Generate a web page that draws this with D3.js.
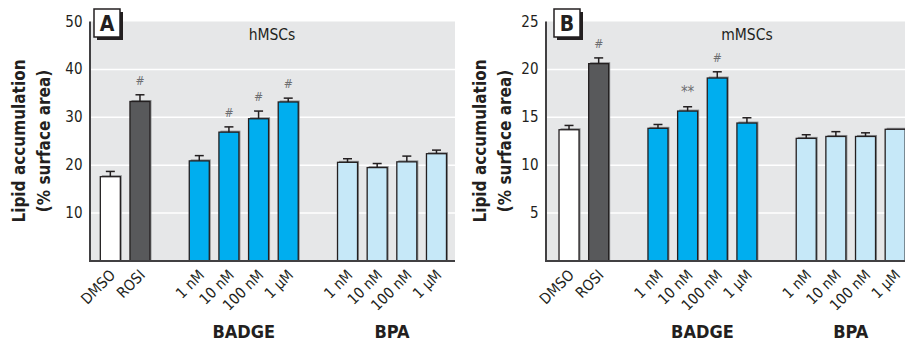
<!DOCTYPE html>
<html>
<head>
<meta charset="utf-8">
<script src="https://cdn.jsdelivr.net/npm/d3@7"></script>
<style>
  body { margin: 0; background: #fff; }
  svg text { font-family: "Liberation Sans Narrow", "Arial Narrow", "DejaVu Sans Condensed", sans-serif; }
</style>
</head>
<body>
<svg id="chart" width="905" height="343"></svg>
<script>
// categories, in plotting order
const categories = ["DMSO", "ROSI", "BADGE 1 nM", "BADGE 10 nM", "BADGE 100 nM", "BADGE 1 µM",
  "BPA 1 nM", "BPA 10 nM", "BPA 100 nM", "BPA 1 µM"];
const tickLabels = ["DMSO", "ROSI", "1 nM", "10 nM", "100 nM", "1 µM", "1 nM", "10 nM", "100 nM", "1 µM"];
const groups = ["control", "control", "BADGE", "BADGE", "BADGE", "BADGE", "BPA", "BPA", "BPA", "BPA"];
const groupNames = ["BADGE", "BPA"];

// panel A: hMSCs
const hMSCsMeans = [17.6, 33.3, 20.9, 26.9, 29.7, 33.2, 20.6, 19.5, 20.7, 22.4];
const hMSCsErr = [1.1, 1.4, 1.1, 1.1, 1.6, 0.8, 0.75, 0.85, 1.2, 0.75];
const hMSCsMarks = ["", "#", "", "#", "#", "#", "", "", "", ""];
const hMSCsTicks = [10, 20, 30, 40, 50];

// panel B: mMSCs
const mMSCsMeans = [13.7, 20.6, 13.85, 15.65, 19.1, 14.4, 12.8, 13.0, 13.0, 13.75];
const mMSCsErr = [0.45, 0.6, 0.4, 0.45, 0.65, 0.55, 0.38, 0.5, 0.38, null];
const mMSCsMarks = ["", "#", "", "**", "#", "", "", "", "", ""];
const mMSCsTicks = [5, 10, 15, 20, 25];

const fillOf = {
  "DMSO": "#ffffff",
  "ROSI": "#58595b",
  "BADGE": "#00aeef",
  "BPA": "#c6e8f8"
};

const svg = d3.select("#chart");
const baseY = 261, topY = 21.5, step = 29.65;

// band domain with empty slots between groups
const slots = [];
categories.forEach((c, i) => {
  if (i > 0 && groups[i] !== groups[i - 1]) slots.push("gap-" + i);
  slots.push(c);
});

function drawPanel(p) {
  const g = svg.append("g");
  const x = d3.scaleBand()
    .domain(slots)
    .range([p.x0, p.x0 + slots.length * step])
    .paddingInner(0.325)
    .paddingOuter(0.1625);
  const y = d3.scaleLinear().domain([0, p.yMax]).range([baseY, topY]);

  // plot background
  g.append("rect")
    .attr("x", p.axisX).attr("y", y(p.yMax))
    .attr("width", p.right - p.axisX).attr("height", baseY - y(p.yMax))
    .attr("fill", "#e6e7e8");

  // gridlines
  g.selectAll(".grid").data(p.ticks.slice(0, -1)).enter().append("line")
    .attr("x1", p.axisX).attr("x2", p.right)
    .attr("y1", d => y(d)).attr("y2", d => y(d))
    .attr("stroke", "#fff").attr("stroke-width", 1.5);

  // tick labels
  g.selectAll(".tl").data(p.ticks).enter().append("text")
    .attr("x", p.axisX - 7.5).attr("y", d => y(d) + 5)
    .attr("text-anchor", "end")
    .style("font-size", "15px").attr("fill", "#231f20")
    .text(d => d);

  const cx = i => x(categories[i]) + x.bandwidth() / 2;
  const fill = i => fillOf[groups[i] === "control" ? categories[i] : groups[i]];

  // bars with a thin shadow up-right
  const bars = g.selectAll(".bar").data(p.means).enter().append("g");
  bars.append("rect")
    .attr("x", (d, i) => x(categories[i]) + 1.5).attr("y", d => y(d) - 1.5)
    .attr("width", x.bandwidth()).attr("height", d => baseY - y(d) + 1.5)
    .attr("fill", "#8d8f91");
  bars.append("rect")
    .attr("x", (d, i) => x(categories[i])).attr("y", d => y(d))
    .attr("width", x.bandwidth()).attr("height", d => baseY - y(d))
    .attr("fill", (d, i) => fill(i))
    .attr("stroke", "#231f20").attr("stroke-width", 1.3);

  // error bars (upper only)
  p.means.forEach((m, i) => {
    const e = p.err[i];
    if (e == null) return;
    g.append("line").attr("x1", cx(i)).attr("x2", cx(i))
      .attr("y1", y(m)).attr("y2", y(m + e)).attr("stroke", "#231f20").attr("stroke-width", 1.5);
    g.append("line").attr("x1", cx(i) - 4.5).attr("x2", cx(i) + 4.5)
      .attr("y1", y(m + e)).attr("y2", y(m + e)).attr("stroke", "#231f20").attr("stroke-width", 1.5);
    if (p.marks[i]) {
      g.append("text")
        .attr("x", cx(i)).attr("y", y(m + e) - 10)
        .attr("text-anchor", "middle")
        .style("font-size", p.marks[i] === "#" ? "12px" : "15px")
        .style("font-style", "italic")
        .attr("fill", "#6d6e71")
        .text(p.marks[i]);
    }
  });

  // axes lines
  g.append("line").attr("x1", p.axisX).attr("x2", p.axisX)
    .attr("y1", y(p.yMax)).attr("y2", baseY + 1)
    .attr("stroke", "#414042").attr("stroke-width", 2);
  g.append("line").attr("x1", p.axisX).attr("x2", p.right)
    .attr("y1", baseY).attr("y2", baseY)
    .attr("stroke", "#414042").attr("stroke-width", 2);

  // rotated category labels
  g.selectAll(".xl").data(tickLabels).enter().append("text")
    .attr("transform", (d, i) => `translate(${cx(i) + 6},${baseY + 15}) rotate(-45)`)
    .attr("text-anchor", "end")
    .style("font-size", "15px").attr("fill", "#231f20")
    .text(d => d);

  // group labels
  groupNames.forEach(gn => {
    const idx = groups.map((v, i) => v === gn ? i : -1).filter(i => i >= 0);
    const mid = (cx(idx[0]) + cx(idx[idx.length - 1])) / 2;
    g.append("text").attr("x", mid).attr("y", 338)
      .attr("text-anchor", "middle")
      .style("font-size", "18px").style("font-weight", "bold").attr("fill", "#231f20")
      .text(gn);
  });

  // cell type title
  g.append("text").attr("x", p.titleX).attr("y", 40)
    .attr("text-anchor", "middle")
    .style("font-size", "15.5px").attr("fill", "#231f20")
    .text(p.title);

  // y axis title
  const yl = g.append("text")
    .attr("transform", `translate(${p.ylabX},141) rotate(-90)`)
    .attr("text-anchor", "middle")
    .style("font-size", "17px").style("font-weight", "bold").attr("fill", "#231f20");
  yl.append("tspan").attr("x", 0).attr("y", 0).text("Lipid accumulation");
  yl.append("tspan").attr("x", 0).attr("y", p.ylabGap).text("(% surface area)");

  // panel letter box with shadow
  g.append("rect").attr("x", p.boxX + 3).attr("y", 12).attr("width", 26).attr("height", 28).attr("fill", "#231f20");
  g.append("rect").attr("x", p.boxX).attr("y", 9).attr("width", 26).attr("height", 28)
    .attr("fill", "#fff").attr("stroke", "#231f20").attr("stroke-width", 1.5);
  g.append("text").attr("x", p.boxX + 13).attr("y", 31)
    .attr("text-anchor", "middle")
    .style("font-size", "21px").style("font-weight", "bold").attr("fill", "#231f20")
    .text(p.letter);
}

drawPanel({
  letter: "A", title: "hMSCs", titleX: 272,
  axisX: 90, right: 455, x0: 95.5, yMax: 50,
  ticks: hMSCsTicks, means: hMSCsMeans, err: hMSCsErr, marks: hMSCsMarks,
  ylabX: 25, ylabGap: 25, boxX: 94
});

drawPanel({
  letter: "B", title: "mMSCs", titleX: 747,
  axisX: 546, right: 906, x0: 554.2, yMax: 25,
  ticks: mMSCsTicks, means: mMSCsMeans, err: mMSCsErr, marks: mMSCsMarks,
  ylabX: 486, ylabGap: 25, boxX: 554
});
</script>
</body>
</html>
